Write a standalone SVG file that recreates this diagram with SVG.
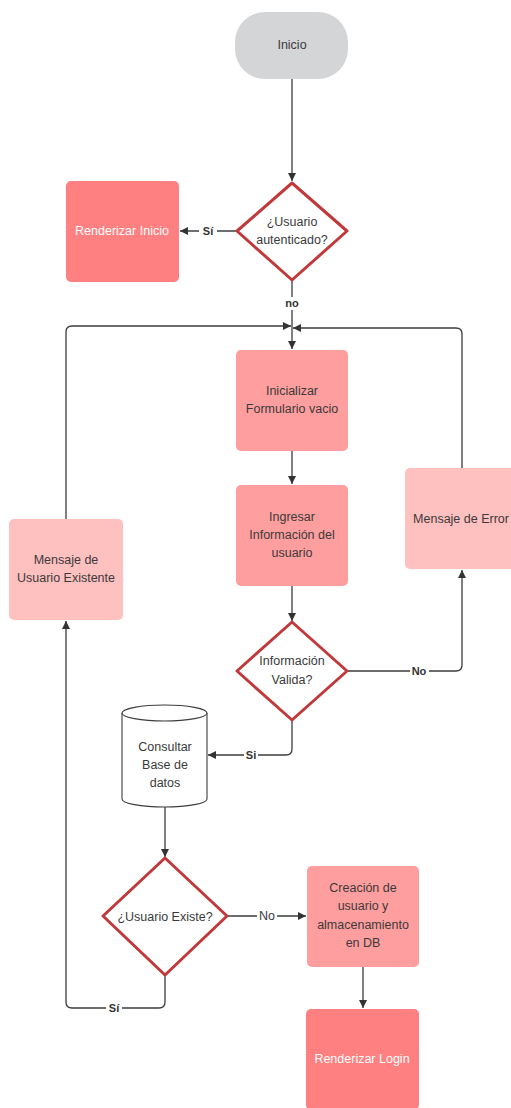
<svg xmlns="http://www.w3.org/2000/svg" width="511" height="1108" viewBox="0 0 511 1108">
  <style>
    .txt { font-family: "Liberation Sans", Arial, sans-serif; font-size: 12.5px; fill: #3a3a3a; text-anchor: middle; }
    .light { fill: #ffffff; }
    .lbl { font-family: "Liberation Sans", Arial, sans-serif; font-size: 11px; font-weight: bold; fill: #333333; text-anchor: middle; }
    .edge { fill: none; stroke: #3c3c3c; stroke-width: 1.3; stroke-linejoin: round; }
    .dec { fill: #ffffff; stroke: #c1393b; stroke-width: 3; stroke-linejoin: round; }
    .strong { fill: #ff8080; }
    .mid { fill: #ff9e9e; }
    .soft { fill: #ffc0c0; }
    .lblbg { fill: #ffffff; }
  </style>
  <defs>
    <marker id="arrow" viewBox="0 0 10 10" refX="10" refY="5" markerWidth="8" markerHeight="8" markerUnits="userSpaceOnUse" orient="auto">
      <path d="M0,0 L10,5 L0,10 Z" fill="#333333"/>
    </marker>
  </defs>

  <rect width="511" height="1108" fill="#ffffff"/>

  <!-- connectors -->
  <g id="connectors">
    <path class="edge" d="M292,79 V181" marker-end="url(#arrow)"/>
    <path class="edge" d="M237,231 H180" marker-end="url(#arrow)"/>
    <path class="edge" d="M292,281 V349" marker-end="url(#arrow)"/>
    <path class="edge" d="M66,519 V332 Q66,326 72,326 H291" marker-end="url(#arrow)"/>
    <path class="edge" d="M462,468 V334 Q462,328 456,328 H293" marker-end="url(#arrow)"/>
    <path class="edge" d="M292,451 V484" marker-end="url(#arrow)"/>
    <path class="edge" d="M292,586 V621" marker-end="url(#arrow)"/>
    <path class="edge" d="M347,671 H456 Q462,671 462,665 V570" marker-end="url(#arrow)"/>
    <path class="edge" d="M292,720 V749 Q292,755 286,755 H208" marker-end="url(#arrow)"/>
    <path class="edge" d="M165,807 V857" marker-end="url(#arrow)"/>
    <path class="edge" d="M227,916 H306" marker-end="url(#arrow)"/>
    <path class="edge" d="M363,967 V1008" marker-end="url(#arrow)"/>
    <path class="edge" d="M165,975 V1002 Q165,1008 159,1008 H72 Q66,1008 66,1002 V621" marker-end="url(#arrow)"/>

    <rect class="lblbg" x="199" y="224" width="18" height="13"/>
    <text class="lbl" x="208" y="235">Sí</text>
    <rect class="lblbg" x="283" y="297" width="18" height="13"/>
    <text class="lbl" x="292" y="307">no</text>
    <rect class="lblbg" x="410" y="664" width="19" height="13"/>
    <text class="lbl" x="419" y="675">No</text>
    <rect class="lblbg" x="244" y="748" width="14" height="13"/>
    <text class="lbl" x="251" y="759">Si</text>
    <rect class="lblbg" x="257" y="909" width="20" height="13"/>
    <text class="txt" x="267" y="920">No</text>
    <rect class="lblbg" x="106" y="1001" width="16" height="13"/>
    <text class="lbl" x="114" y="1012">Sí</text>
  </g>

  <!-- nodes -->
  <g id="inicio">
    <rect x="235" y="12" width="113" height="67" rx="30" ry="30" fill="#d4d5d7"/>
    <text class="txt" x="292" y="49">Inicio</text>
  </g>

  <g id="usuario-autenticado">
    <path class="dec" d="M292,183 L347,231 L292,280 L237,231 Z"/>
    <text class="txt" x="292" y="226">¿Usuario</text>
    <text class="txt" x="292" y="244">autenticado?</text>
  </g>

  <g id="renderizar-inicio">
    <rect class="strong" x="66" y="181" width="113" height="101" rx="5"/>
    <text class="txt light" x="122" y="235">Renderizar Inicio</text>
  </g>

  <g id="inicializar-formulario">
    <rect class="mid" x="236" y="350" width="112" height="101" rx="5"/>
    <text class="txt" x="292" y="395">Inicializar</text>
    <text class="txt" x="292" y="413">Formulario vacio</text>
  </g>

  <g id="ingresar-informacion">
    <rect class="mid" x="236" y="485" width="112" height="101" rx="5"/>
    <text class="txt" x="292" y="521">Ingresar</text>
    <text class="txt" x="292" y="539">Información del</text>
    <text class="txt" x="292" y="557">usuario</text>
  </g>

  <g id="mensaje-error">
    <rect class="soft" x="405" y="468" width="112" height="101" rx="5"/>
    <text class="txt" x="461" y="523">Mensaje de Error</text>
  </g>

  <g id="mensaje-usuario-existente">
    <rect class="soft" x="9" y="519" width="114" height="101" rx="5"/>
    <text class="txt" x="66" y="564">Mensaje de</text>
    <text class="txt" x="66" y="582">Usuario Existente</text>
  </g>

  <g id="informacion-valida">
    <path class="dec" d="M292,622 L347,671 L292,720 L237,671 Z"/>
    <text class="txt" x="292" y="665">Información</text>
    <text class="txt" x="292" y="684">Valida?</text>
  </g>

  <g id="consultar-base-datos">
    <path d="M122,713 V799 A42.5,8 0 0 0 207,799 V713" fill="#ffffff" stroke="#3c3c3c" stroke-width="1.1"/>
    <ellipse cx="164.5" cy="713" rx="42.5" ry="8" fill="#ffffff" stroke="#3c3c3c" stroke-width="1.1"/>
    <text class="txt" x="165" y="751">Consultar</text>
    <text class="txt" x="165" y="769">Base de</text>
    <text class="txt" x="165" y="787">datos</text>
  </g>

  <g id="usuario-existe">
    <path class="dec" d="M165,858 L227,916 L165,975 L103,916 Z"/>
    <text class="txt" x="165" y="921">¿Usuario Existe?</text>
  </g>

  <g id="creacion-usuario">
    <rect class="mid" x="307" y="866" width="112" height="101" rx="5"/>
    <text class="txt" x="363" y="892">Creación de</text>
    <text class="txt" x="363" y="910">usuario y</text>
    <text class="txt" x="363" y="929">almacenamiento</text>
    <text class="txt" x="363" y="947">en DB</text>
  </g>

  <g id="renderizar-login">
    <rect class="strong" x="306" y="1009" width="113" height="101" rx="5"/>
    <text class="txt light" x="362" y="1063">Renderizar Login</text>
  </g>
</svg>
